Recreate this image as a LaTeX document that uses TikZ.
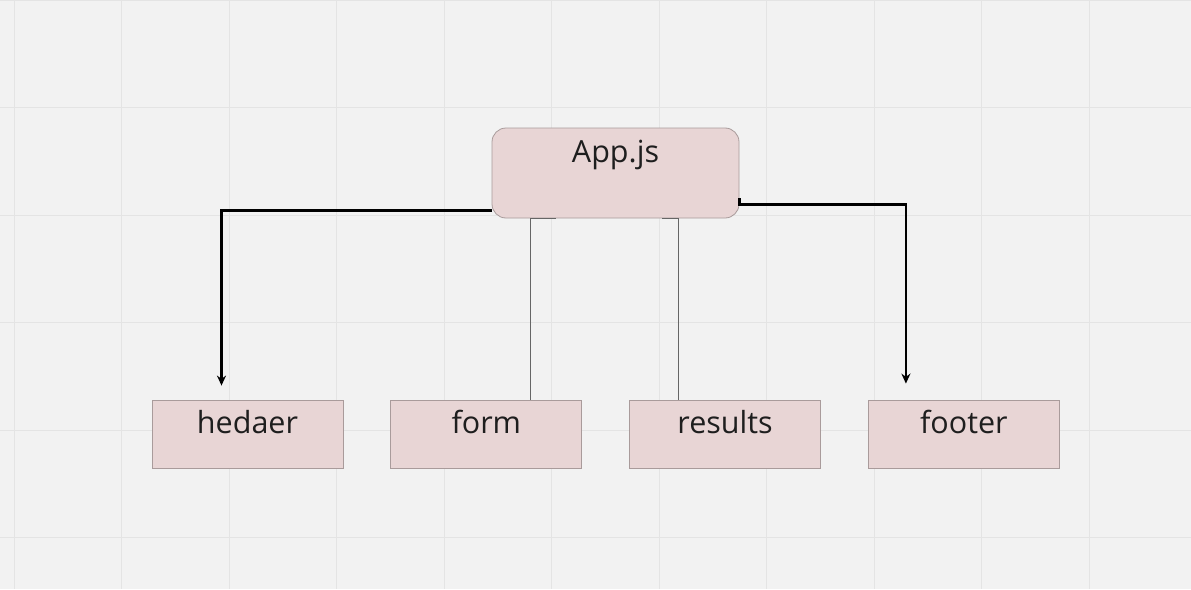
\documentclass[tikz,border=0pt]{standalone}
\usepackage{fontspec}
\setmainfont{Open Sans}
\usepackage{tikz}
\usetikzlibrary{positioning, calc, arrows.meta}
\definecolor{canvas}{HTML}{F2F2F2}
\definecolor{gridline}{HTML}{E4E4E4}
\definecolor{boxfill}{HTML}{E8D5D5}
\definecolor{boxline}{HTML}{A99B9B}
\definecolor{ink}{HTML}{1E1E1E}

\begin{document}
\begin{tikzpicture}[x=1pt, y=1pt, node distance=47pt, every node/.style={font=\fontsize{30.5}{36}\selectfont, text=ink}]
    \tikzstyle{block} = [draw=boxline, fill=boxfill, rectangle, inner sep=0pt, minimum width=191pt, text height=33pt, text depth=35pt, line width=0.8pt]
    \tikzstyle{root} = [block, rounded corners=14pt, minimum width=247pt, text height=34pt, text depth=56pt]
    \tikzstyle{arrow} = [line width=2.4pt, -{Stealth[length=10pt, width=9pt]}, draw=black]
    \tikzstyle{link} = [line width=0.8pt, draw=black!60]

    % canvas and grid
    \fill[canvas] (0,0) rectangle (1191,-589);
    \useasboundingbox (0,0) rectangle (1191,-589);
    \foreach \gx in {0,...,10} \draw[gridline, line width=1pt] (14+107.5*\gx,0) -- (14+107.5*\gx,-589);
    \foreach \gy in {0,...,5} \draw[gridline, line width=1pt] (0,-107.5*\gy) -- (1191,-107.5*\gy);

    % Components
    \node (app) [root] at (615.5,-173) {App.js};
    \node (hed) [block] at (247.5,-434) {hedaer};
    \node (form) [block, right=of hed] {form};
    \node (res) [block, right=of form] {results};
    \node (foot) [block, right=of res] {footer};

    % Connectors
    \draw [arrow] ([yshift=8pt]app.south west) -| ([xshift=-26pt, yshift=14pt]hed.north);
    \draw [arrow] ([yshift=20pt]app.south east) -- ++(0,-6) -| ([xshift=-58pt, yshift=16pt]foot.north);
    \draw [link] ([xshift=-60pt]app.south) -| ([xshift=44.5pt]form.north);
    \draw [link] ([xshift=46.5pt]app.south) -| ([xshift=-47pt]res.north);
\end{tikzpicture}
\end{document}
